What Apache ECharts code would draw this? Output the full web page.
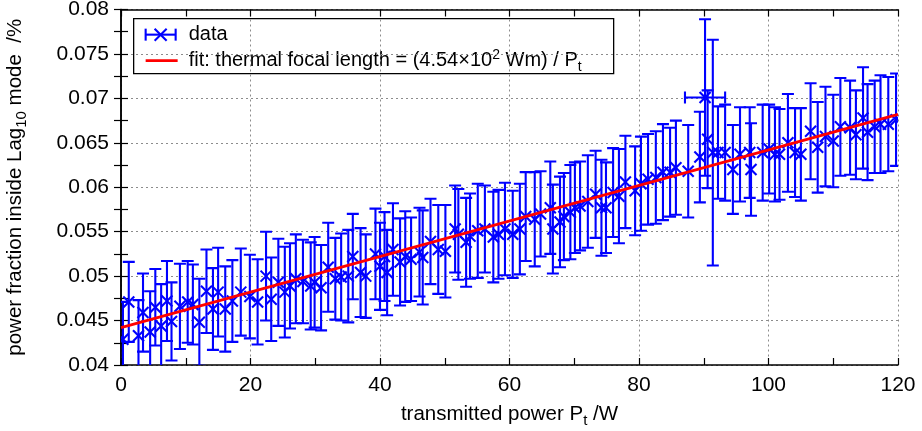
<!DOCTYPE html>
<html>
<head>
<meta charset="utf-8">
<script src="https://cdn.jsdelivr.net/npm/echarts@6/dist/echarts.min.js"></script>
<style>html,body{margin:0;padding:0;background:#fff}#c{width:922px;height:431px}</style>
</head>
<body>
<div id="c"></div>
<script>
// transmitted power P_t /W
const xs = [
  0.3,1.2,2.7,3.4,4.5,5.3,6.2,7.1,7.8,9.1,
  10.3,11.1,12.1,13.2,14.2,15.0,16.1,17.2,18.5,19.9,
  21.1,22.4,23.2,24.3,25.3,26.1,27.0,28.1,29.3,29.9,
  30.9,32.0,33.1,34.0,35.1,35.8,37.0,37.8,39.3,40.0,
  40.7,41.1,42.0,43.1,43.9,44.8,46.1,46.6,47.8,49.0,
  50.1,51.6,52.1,53.3,53.9,55.1,56.2,57.5,58.3,59.3,
  60.5,61.6,62.5,63.9,64.8,66.3,66.7,67.8,68.4,69.4,
  70.1,70.9,72.1,73.3,74.2,74.9,76.0,76.9,77.9,79.4,
  80.3,81.4,82.6,83.7,84.8,85.7,87.6,89.4,90.2,90.6,
  91.4,92.2,93.3,94.5,95.6,97.1,97.3,99.1,100.1,101.0,
  101.7,103.0,104.1,105.0,106.5,107.6,108.8,110.0,111.1,112.6,
  113.5,114.6,115.3,116.4,117.3,118.5,119.7
];
// power fraction inside Lag10 mode /%
const ys = [
  0.0429,0.0471,0.0433,0.0459,0.0437,0.0465,0.0444,0.0472,0.0449,0.0466,
  0.0471,0.0468,0.0448,0.0483,0.0463,0.0482,0.0463,0.0472,0.0482,0.0477,
  0.0471,0.0500,0.0474,0.0493,0.0482,0.0489,0.0497,0.0494,0.0489,0.0493,
  0.0487,0.0510,0.0497,0.0499,0.0500,0.0522,0.0504,0.0500,0.0525,0.0511,
  0.0522,0.0504,0.0530,0.0516,0.0522,0.0519,0.0527,0.0521,0.0539,0.0530,
  0.0528,0.0553,0.0547,0.0538,0.0545,0.0551,0.0553,0.0544,0.0547,0.0553,
  0.0547,0.0553,0.0567,0.0564,0.0570,0.0577,0.0553,0.0561,0.0567,0.0572,
  0.0577,0.0579,0.0584,0.0592,0.0577,0.0577,0.0594,0.0590,0.0606,0.0596,
  0.0604,0.0609,0.0611,0.0617,0.0617,0.0622,0.0618,0.0634,0.0701,0.0654,
  0.0639,0.0639,0.0639,0.0620,0.0637,0.0639,0.0620,0.0639,0.0643,0.0637,
  0.0637,0.0650,0.0639,0.0637,0.0663,0.0645,0.0657,0.0652,0.0668,0.0667,
  0.0659,0.0678,0.0662,0.0668,0.0671,0.0671,0.0676
];
// y error (half-width)
const yErr = [
  0.0042,0.0045,0.0040,0.0044,0.0046,0.0043,0.0047,0.0045,0.0044,0.0048,
  0.0046,0.0045,0.0049,0.0047,0.0046,0.0050,0.0048,0.0046,0.0049,0.0047,
  0.0048,0.0050,0.0047,0.0049,0.0051,0.0048,0.0050,0.0047,0.0049,0.0051,
  0.0048,0.0050,0.0046,0.0049,0.0052,0.0048,0.0050,0.0047,0.0051,0.0049,
  0.0050,0.0048,0.0052,0.0049,0.0051,0.0047,0.0050,0.0053,0.0048,0.0050,
  0.0052,0.0049,0.0051,0.0050,0.0048,0.0053,0.0049,0.0051,0.0050,0.0052,
  0.0049,0.0051,0.0050,0.0053,0.0048,0.0052,0.0050,0.0051,0.0049,0.0053,
  0.0051,0.0050,0.0052,0.0049,0.0054,0.0051,0.0050,0.0053,0.0052,0.0050,
  0.0053,0.0051,0.0052,0.0054,0.0050,0.0053,0.0052,0.0051,0.0088,0.0055,
  0.0127,0.0052,0.0054,0.0050,0.0053,0.0051,0.0052,0.0054,0.0050,0.0053,
  0.0051,0.0055,0.0050,0.0052,0.0054,0.0051,0.0056,0.0052,0.0055,0.0053,
  0.0050,0.0057,0.0054,0.0052,0.0055,0.0053,0.0052
];
// x error only on one point
const xErrIndex = [88];
const xErrValue = [3.1];
// fit line endpoints
const fitX = [0, 120];
const fitY = [0.0442, 0.0682];
// tick labels
const xTickLabels = ['0','20','40','60','80','100','120'];
const yTickLabels = ['0.04','0.045','0.05','0.055','0.06','0.065','0.07','0.075','0.08'];

const FONT = "'Liberation Sans', Arial, sans-serif";
const BLUE = '#0000ff';
const RED = '#ff0000';

const errData = xs.map((x, i) => {
  const k = xErrIndex.indexOf(i);
  return [x, ys[i], yErr[i], k >= 0 ? xErrValue[k] : 0];
});
const fitData = fitX.map((x, i) => [x, fitY[i]]);

function renderErr(params, api) {
  const x = api.value(0), y = api.value(1), e = api.value(2), xe = api.value(3);
  const c = api.coord([x, y]);
  const t = api.coord([x, y + e]);
  const b = api.coord([x, y - e]);
  const cap = 6, cr = 5.5;
  const st = { stroke: BLUE, lineWidth: 2.1, fill: null };
  const ln = (x1, y1, x2, y2) => ({ type: 'line', shape: { x1, y1, x2, y2 }, style: st });
  const ch = [
    ln(c[0], t[1], c[0], b[1]),
    ln(c[0] - cap, t[1], c[0] + cap, t[1]),
    ln(c[0] - cap, b[1], c[0] + cap, b[1]),
    ln(c[0] - cr, c[1] - cr, c[0] + cr, c[1] + cr),
    ln(c[0] - cr, c[1] + cr, c[0] + cr, c[1] - cr)
  ];
  if (xe > 0) {
    const l = api.coord([x - xe, y]), r = api.coord([x + xe, y]);
    ch.push(ln(l[0], c[1], r[0], c[1]));
    ch.push(ln(l[0], c[1] - cap, l[0], c[1] + cap));
    ch.push(ln(r[0], c[1] - cap, r[0], c[1] + cap));
  }
  return { type: 'group', children: ch };
}

function yFmt(v) {
  const idx = Math.round((v - 0.04) / 0.005);
  return yTickLabels[idx] !== undefined ? yTickLabels[idx] : '';
}
function xFmt(v) {
  const idx = Math.round(v / 20);
  return xTickLabels[idx] !== undefined ? xTickLabels[idx] : '';
}

const axisLineStyle = { color: '#000', width: 1.5 };
const tickStyle = { color: '#000', width: 1.2 };
const splitStyle = { show: true, lineStyle: { color: '#8c8c8c', type: [2, 3], width: 1 } };

const chart = echarts.init(document.getElementById('c'), null, { renderer: 'canvas' });
chart.setOption({
  animation: false,
  backgroundColor: '#fff',
  grid: { left: 121, right: 24, top: 9.5, bottom: 66, containLabel: false, outerBoundsMode: 'none' },
  xAxis: [{
    type: 'value', min: 0, max: 120, interval: 20, position: 'bottom',
    axisLine: { show: true, lineStyle: axisLineStyle },
    axisTick: { show: true, inside: true, length: 7, lineStyle: tickStyle },
    minorTick: { show: true, splitNumber: 2, length: 7, lineStyle: tickStyle },
    axisLabel: { color: '#000', fontSize: 21, fontFamily: FONT, margin: 10, formatter: xFmt },
    splitLine: splitStyle,
    name: '{a|transmitted power P}{sub|t}{a| /W}',
    nameLocation: 'middle', nameGap: 36,
    nameTextStyle: {
      rich: {
        a: { fontSize: 20.5, fontFamily: FONT, color: '#000' },
        sub: { fontSize: 15, fontFamily: FONT, color: '#000', padding: [12, 0, 0, 0] }
      }
    }
  }, {
    type: 'value', min: 0, max: 120, interval: 20, position: 'top',
    axisLine: { show: true, lineStyle: axisLineStyle },
    axisTick: { show: true, inside: true, length: 7, lineStyle: tickStyle },
    minorTick: { show: true, splitNumber: 2, length: 7, lineStyle: tickStyle },
    axisLabel: { show: false }, splitLine: { show: false }
  }],
  yAxis: [{
    type: 'value', min: 0.04, max: 0.08, interval: 0.005, position: 'left',
    axisLine: { show: true, lineStyle: axisLineStyle },
    axisTick: { show: true, inside: true, length: 7, lineStyle: tickStyle },
    minorTick: { show: true, splitNumber: 2, length: 7, lineStyle: tickStyle },
    axisLabel: { color: '#000', fontSize: 21, fontFamily: FONT, margin: 12, formatter: yFmt },
    splitLine: splitStyle,
    name: '{a|power fraction inside Lag}{sub|10}{a| mode  /%}',
    nameLocation: 'middle', nameGap: 92, nameRotate: 90,
    nameTextStyle: {
      rich: {
        a: { fontSize: 20.5, fontFamily: FONT, color: '#000' },
        sub: { fontSize: 15, fontFamily: FONT, color: '#000', padding: [12, 0, 0, 0] }
      }
    }
  }, {
    type: 'value', min: 0.04, max: 0.08, interval: 0.005, position: 'right',
    axisLine: { show: true, lineStyle: axisLineStyle },
    axisTick: { show: true, inside: true, length: 7, lineStyle: tickStyle },
    minorTick: { show: true, splitNumber: 2, length: 7, lineStyle: tickStyle },
    axisLabel: { show: false }, splitLine: { show: false }
  }],
  series: [{
    name: 'data', type: 'custom', renderItem: renderErr, data: errData,
    clip: true, xAxisIndex: 0, yAxisIndex: 0, z: 3,
    encode: { x: 0, y: 1 }
  }, {
    name: 'fit', type: 'line', data: fitData, showSymbol: false, symbol: 'none',
    lineStyle: { color: RED, width: 2.8 }, z: 4, xAxisIndex: 0, yAxisIndex: 0
  }],
  graphic: [{
    type: 'group', left: 133, top: 18, z: 100,
    children: [
      { type: 'rect', shape: { x: 0, y: 0, width: 480, height: 55 },
        style: { fill: '#fff', stroke: '#000', lineWidth: 1.3 } },
      { type: 'line', shape: { x1: 12, y1: 16, x2: 42, y2: 16 }, style: { stroke: BLUE, lineWidth: 2.1 } },
      { type: 'line', shape: { x1: 12, y1: 10, x2: 12, y2: 22 }, style: { stroke: BLUE, lineWidth: 2.1 } },
      { type: 'line', shape: { x1: 42, y1: 10, x2: 42, y2: 22 }, style: { stroke: BLUE, lineWidth: 2.1 } },
      { type: 'line', shape: { x1: 21, y1: 10, x2: 33, y2: 22 }, style: { stroke: BLUE, lineWidth: 2.1 } },
      { type: 'line', shape: { x1: 21, y1: 22, x2: 33, y2: 10 }, style: { stroke: BLUE, lineWidth: 2.1 } },
      { type: 'text', x: 55, y: 16, style: { text: 'data', fontSize: 20, fontFamily: FONT, fill: '#000', verticalAlign: 'middle' } },
      { type: 'line', shape: { x1: 12, y1: 42, x2: 44, y2: 42 }, style: { stroke: RED, lineWidth: 2.8 } },
      { type: 'text', x: 55, y: 42, style: {
          text: '{a|fit: thermal focal length = (4.54×10}{sup|2}{a| Wm) / P}{sub|t}',
          verticalAlign: 'middle', fill: '#000',
          rich: {
            a: { fontSize: 20, fontFamily: FONT, fill: '#000' },
            sup: { fontSize: 14, fontFamily: FONT, fill: '#000', padding: [0, 0, 12, 0] },
            sub: { fontSize: 14, fontFamily: FONT, fill: '#000', padding: [12, 0, 0, 0] }
          }
        } }
    ]
  }]
});
</script>
</body>
</html>
